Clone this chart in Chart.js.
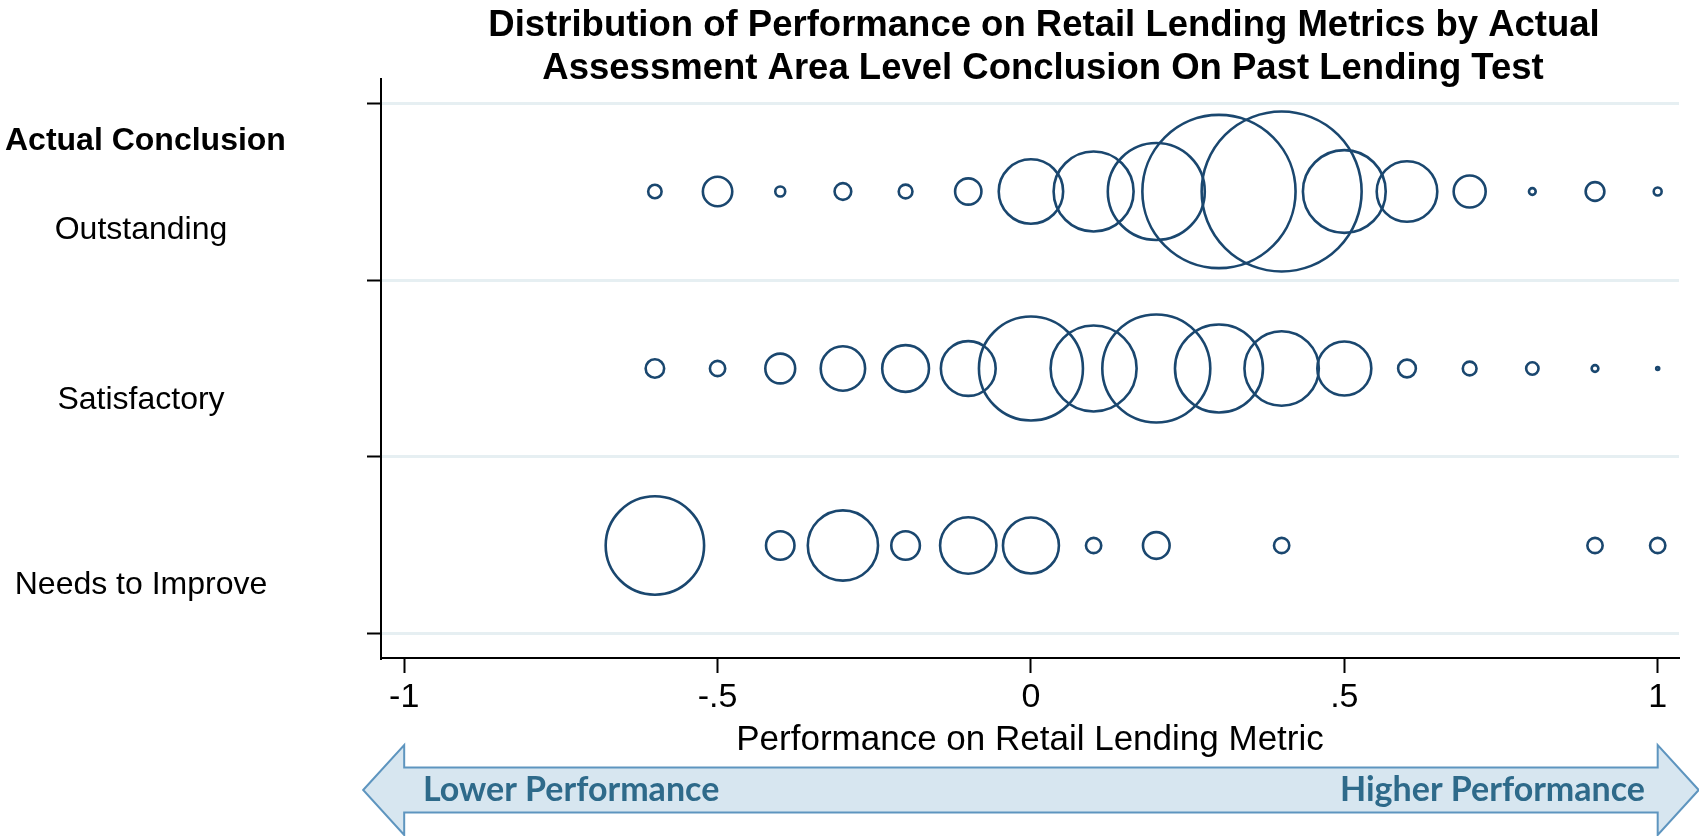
<!DOCTYPE html>
<html>
<head>
<meta charset="utf-8">
<title>Distribution of Performance on Retail Lending Metrics</title>
<script src="https://cdn.jsdelivr.net/npm/chart.js@4.4.1/dist/chart.umd.min.js"></script>
<style>
  html, body { margin: 0; padding: 0; background: #fff; }
  #wrap { width: 1699px; height: 836px; position: relative; }
</style>
</head>
<body>
<div id="wrap"><canvas id="bubbleChart"></canvas></div>
<script>
// performance bins on the x axis, shared by the three rows
const bins = [-0.6, -0.5, -0.4, -0.3, -0.2, -0.1, 0, 0.1, 0.2, 0.3, 0.4, 0.5, 0.6, 0.7, 0.8, 0.9, 1.0];

// number of observations in each bin (bubble area); 0 = no bubble
const outstanding  = [20, 96, 11, 31, 21, 77, 461, 711, 1045, 2608, 2844, 762, 408, 114, 5, 39, 7];
const satisfactory = [38, 26, 99, 219, 243, 334, 1202, 822, 1296, 860, 615, 324, 35, 21, 17, 5, 1];
const needsImprove = [1076, 0, 90, 548, 91, 353, 348, 26, 79, 0, 26, 0, 0, 0, 0, 26, 26];

const rowNames  = ['Needs to Improve', 'Satisfactory', 'Outstanding'];
const rowValues = [0.5, 1.5, 2.5];

const xTickValues = [-1, -0.5, 0, 0.5, 1];
const xTickLabels = ['-1', '-.5', '0', '.5', '1'];
const yTickValues = [0, 1, 2, 3];

const titleLines = [
    'Distribution of Performance on Retail Lending Metrics by Actual',
    'Assessment Area Level Conclusion On Past Lending Test'
];

const NAVY = '#1a476f';
const SIZE = 1.5;   // radius = SIZE * sqrt(count)

function toBubbles(counts, row) {
    let pts = [];
    counts.forEach((n, i) => {
        if (n > 0) pts.push({ x: bins[i], y: row, r: Math.sqrt(n) * SIZE });
    });
    return pts;
}

// titles, row labels and the performance arrow
const annotate = {
    id: 'annotate',
    afterDraw(chart) {
        let ctx = chart.ctx;
        let xs = chart.scales.x, ys = chart.scales.y;
        let sans = '"Liberation Sans", Arial, sans-serif';
        ctx.save();
        ctx.fillStyle = '#000';
        ctx.textBaseline = 'alphabetic';

        ctx.textAlign = 'center';
        ctx.font = 'bold 36.5px ' + sans;
        ctx.fillText(titleLines[0], 1044, 36);
        ctx.fillText(titleLines[1], 1043, 79);

        ctx.textAlign = 'left';
        ctx.font = 'bold 32px ' + sans;
        ctx.fillText('Actual Conclusion', 5, 150);

        ctx.textAlign = 'center';
        ctx.font = '32px ' + sans;
        let drop = [49, 40, 47];
        rowNames.forEach((name, i) => {
            ctx.fillText(name, 141, ys.getPixelForValue(rowValues[i]) + drop[i]);
        });

        // double arrow under the axis
        let left = xs.getPixelForValue(-1), right = xs.getPixelForValue(1);
        let mid = 790, shaft = 22.5, head = 45, tip = 41;
        ctx.beginPath();
        ctx.moveTo(left - tip, mid);
        ctx.lineTo(left, mid - head);
        ctx.lineTo(left, mid - shaft);
        ctx.lineTo(right, mid - shaft);
        ctx.lineTo(right, mid - head);
        ctx.lineTo(right + tip, mid);
        ctx.lineTo(right, mid + head);
        ctx.lineTo(right, mid + shaft);
        ctx.lineTo(left, mid + shaft);
        ctx.lineTo(left, mid + head);
        ctx.closePath();
        ctx.fillStyle = '#d7e6f0';
        ctx.fill();
        ctx.strokeStyle = '#5e95bf';
        ctx.lineWidth = 2;
        ctx.stroke();

        ctx.fillStyle = '#2e6a8a';
        ctx.font = 'bold 34px Lato, sans-serif';
        ctx.textAlign = 'left';
        ctx.fillText('Lower Performance', 423, 801);
        ctx.textAlign = 'right';
        ctx.fillText('Higher Performance', 1645, 801);
        ctx.restore();
    }
};

Chart.defaults.font.family = '"Liberation Sans", Arial, sans-serif';

let ctx = document.getElementById('bubbleChart').getContext('2d');
let myChart = new Chart(ctx, {
    type: 'bubble',
    data: {
        datasets: [
            { label: rowNames[2], data: toBubbles(outstanding, rowValues[2]) },
            { label: rowNames[1], data: toBubbles(satisfactory, rowValues[1]) },
            { label: rowNames[0], data: toBubbles(needsImprove, rowValues[0]) }
        ].map(d => Object.assign(d, {
            backgroundColor: 'rgba(0,0,0,0)',
            borderColor: NAVY,
            borderWidth: 2.6,
            clip: false
        }))
    },
    options: {
        responsive: true,
        maintainAspectRatio: false,
        animation: false,
        events: [],
        layout: { padding: { top: 79, right: 20, left: 0, bottom: 0 }, autoPadding: false },
        plugins: {
            legend: { display: false },
            tooltip: { enabled: false },
            title: { display: false }
        },
        scales: {
            x: {
                type: 'linear',
                position: 'bottom',
                min: -1.037,
                max: 1.034,
                afterBuildTicks: s => { s.ticks = xTickValues.map(v => ({ value: v })); },
                afterFit: s => { s.height = 178; },
                grid: { drawOnChartArea: false, drawTicks: true, tickLength: 15, tickColor: '#000', tickWidth: 2 },
                border: { display: true, color: '#000', width: 2 },
                ticks: {
                    padding: 4,
                    color: '#000',
                    font: { size: 34 },
                    maxRotation: 0,
                    autoSkip: false,
                    callback: (v, i) => xTickLabels[i]
                },
                title: {
                    display: true,
                    text: 'Performance on Retail Lending Metric',
                    color: '#000',
                    font: { size: 35 },
                    padding: { top: 0, bottom: 75 }
                }
            },
            y: {
                type: 'linear',
                min: -0.1356,
                max: 3.1356,
                afterBuildTicks: s => { s.ticks = yTickValues.map(v => ({ value: v })); },
                afterFit: s => { s.width = 381; },
                grid: { color: '#e6eff2', lineWidth: 3, drawTicks: true, tickLength: 14, tickColor: '#000', tickWidth: 2 },
                border: { display: true, color: '#000', width: 2 },
                ticks: { display: false }
            }
        }
    },
    plugins: [annotate]
});
</script>
</body>
</html>
